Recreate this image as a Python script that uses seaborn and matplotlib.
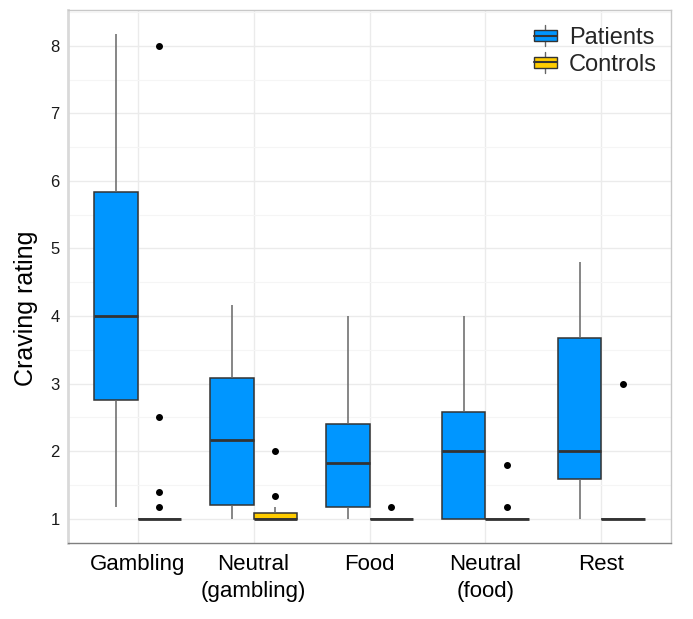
import pandas as pd
import seaborn as sns
import matplotlib.pyplot as plt
from matplotlib.legend_handler import HandlerPatch
from matplotlib.patches import Rectangle
from matplotlib.lines import Line2D

# condiciones (eje x)
conditions = ["Gambling", "Neutral\n(gambling)", "Food", "Neutral\n(food)", "Rest"]
groups = ["Patients", "Controls"]

# valores
patients_gambling = [1.17, 2.75, 4.0, 5.83, 8.17]
patients_neutral_gambling = [1.0, 1.2, 2.17, 3.08, 4.17]
patients_food = [1.0, 1.17, 1.83, 2.4, 4.0]
patients_neutral_food = [1.0, 1.0, 2.0, 2.58, 4.0]
patients_rest = [1.0, 1.58, 2.0, 3.67, 4.8]

controls_gambling = [1, 1, 1, 1, 1, 1, 1, 1, 1, 1, 1, 1, 1, 1.17, 1.4, 2.5, 8.0]
controls_neutral_gambling = [1, 1, 1, 1, 1, 1, 1, 1, 1, 1, 1, 1, 1.08, 1.17, 1.17, 1.33, 2.0]
controls_food = [1, 1, 1, 1, 1, 1, 1, 1, 1, 1, 1, 1, 1, 1, 1, 1, 1.17]
controls_neutral_food = [1, 1, 1, 1, 1, 1, 1, 1, 1, 1, 1, 1, 1, 1, 1, 1.17, 1.8]
controls_rest = [1, 1, 1, 1, 1, 1, 1, 1, 1, 1, 1, 1, 1, 1, 1, 1, 3.0]

patients = [patients_gambling, patients_neutral_gambling, patients_food,
            patients_neutral_food, patients_rest]
controls = [controls_gambling, controls_neutral_gambling, controls_food,
            controls_neutral_food, controls_rest]

rows = []
for cond, p, c in zip(conditions, patients, controls):
    for v in p:
        rows.append({"condition": cond, "group": "Patients", "rating": v})
    for v in c:
        rows.append({"condition": cond, "group": "Controls", "rating": v})
df = pd.DataFrame(rows)

colores = {"Patients": "#0096FF", "Controls": "#FFCC00"}
edge = "#333333"

sns.set_theme(style="whitegrid")
plt.rcParams["font.family"] = ["Liberation Sans", "DejaVu Sans"]

fig = plt.figure(figsize=(6.93, 6.19), dpi=100)
ax = fig.add_axes([68 / 693, 1 - 543 / 619, (671 - 68) / 693, (543 - 10) / 619])

sns.boxplot(
    data=df, x="condition", y="rating", hue="group",
    order=conditions, hue_order=groups, palette=colores, saturation=1,
    width=0.75, gap=0, linewidth=1.1, linecolor=edge,
    showcaps=False, fliersize=4,
    flierprops=dict(marker="o", markerfacecolor="black", markeredgecolor="black"),
    medianprops=dict(color=edge, linewidth=2),
    whiskerprops=dict(color="#666666", linewidth=1.1),
    ax=ax,
)

ax.set_xlim(-0.6, 4.6)
ax.set_ylim(0.64, 8.53)
ax.set_yticks(range(1, 9))
ax.set_yticks([1.5, 2.5, 3.5, 4.5, 5.5, 6.5, 7.5, 8.5], minor=True)
ax.grid(True, which="major", color="#EBEBEB", linewidth=1)
ax.grid(True, which="minor", axis="y", color="#F5F5F5", linewidth=0.8)
ax.set_axisbelow(True)

for s in ax.spines.values():
    s.set_color("#C8C8C8")
    s.set_linewidth(1)
ax.spines["left"].set_color("#D9D9D9")
ax.spines["left"].set_linewidth(2)
ax.spines["bottom"].set_color("#7F7F7F")

ax.tick_params(axis="both", which="major", length=4, color="#7F7F7F", width=0.8)
ax.tick_params(axis="y", which="minor", length=0)
ax.tick_params(axis="y", labelsize=12, labelcolor="#1A1A1A", pad=2)
ax.tick_params(axis="x", labelsize=16, labelcolor="black", pad=4)
for lab in ax.get_xticklabels():
    lab.set_linespacing(1.35)

ax.set_xlabel("")
ax.set_ylabel("Craving rating", fontsize=18, color="black")
ax.yaxis.set_label_coords(-0.05, 0.441)


# leyenda tipo ggplot (caja con mediana y bigote)
class HandlerBox(HandlerPatch):
    def create_artists(self, legend, orig_handle, xdescent, ydescent,
                       width, height, fontsize, trans):
        w = width * 0.75
        x0 = (width - w) / 2 - xdescent
        h = height * 0.75
        y0 = (height - h) / 2 - ydescent
        cx = x0 + w / 2
        whisk = Line2D([cx, cx], [y0 - h * 0.45, y0 + h * 1.45], color="#666666", lw=1)
        rect = Rectangle((x0, y0), w, h, facecolor=orig_handle.get_facecolor(),
                         edgecolor=edge, lw=1)
        med = Line2D([x0, x0 + w], [y0 + h / 2, y0 + h / 2], color=edge, lw=1.5)
        arts = [whisk, rect, med]
        for a in arts:
            a.set_transform(trans)
        return arts


handles = [Rectangle((0, 0), 1, 1, facecolor=colores[g]) for g in groups]
ax.legend(handles, groups, loc="upper right", bbox_to_anchor=(1.012, 1.008),
          frameon=False, fontsize=17, handlelength=1.3, handleheight=0.6,
          handletextpad=0.35, labelspacing=0.2,
          handler_map={Rectangle: HandlerBox()})

fig.savefig("out.png", dpi=100)
